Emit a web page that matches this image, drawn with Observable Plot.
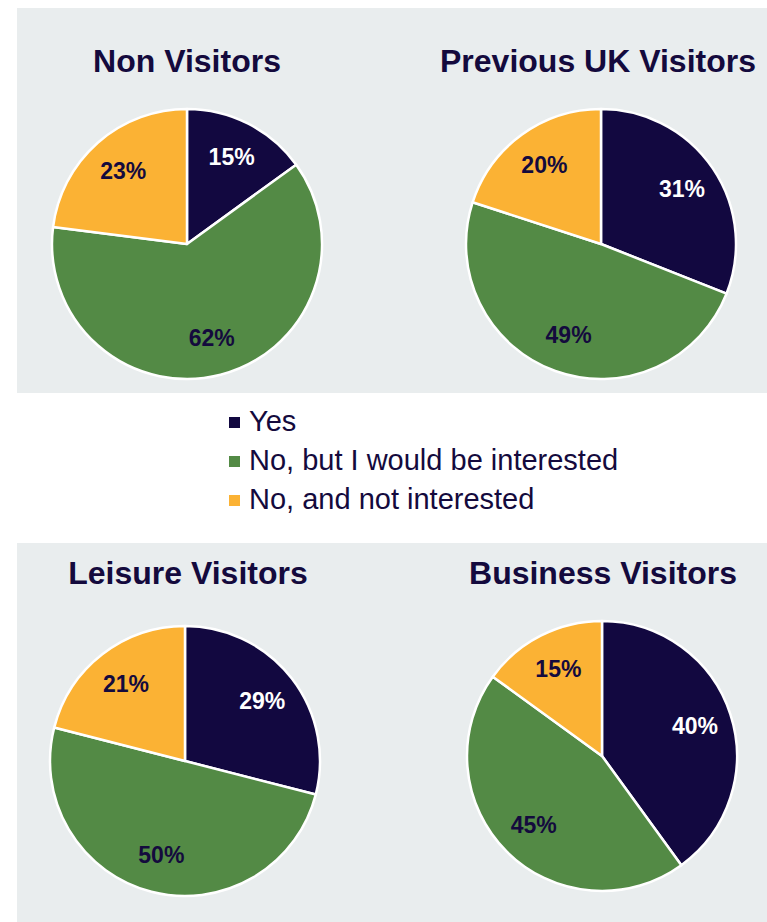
<!DOCTYPE html>
<html>
<head>
<meta charset="utf-8">
<script src="https://cdn.jsdelivr.net/npm/d3@7"></script>
<script src="https://cdn.jsdelivr.net/npm/@observablehq/plot@0.6"></script>
<style>
  html, body { margin: 0; padding: 0; background: #fff; }
  #page { position: relative; width: 767px; height: 922px; overflow: hidden; font-family: "Liberation Sans", Arial, sans-serif; color: #140a3d; }
  .panel { position: absolute; left: 17px; width: 750px; background: #e9edee; }
  .title { position: absolute; width: 400px; margin-left: -200px; text-align: center; font-weight: bold; font-size: 32px; line-height: 32px; white-space: nowrap; }
  .pie { position: absolute; width: 300px; height: 300px; margin-left: -150px; margin-top: -150px; }
  .leg { position: absolute; left: 229px; font-size: 29px; line-height: 29px; white-space: nowrap; }
  .leg span.sw { position: absolute; left: 0; top: 10px; width: 11px; height: 11px; }
  .leg span.tx { position: absolute; left: 20px; top: 0; }
</style>
</head>
<body>
<div id="page"></div>
<script>
// ---- data ----
const categories = ["Yes", "No, but I would be interested", "No, and not interested"];
const colors = ["#120840", "#538a45", "#fbb234"];
const panelTitles = ["Non Visitors", "Previous UK Visitors", "Leisure Visitors", "Business Visitors"];
const nonVisitors = [15, 62, 23];
const previousUK = [31, 49, 20];
const leisure = [29, 50, 21];
const business = [40, 45, 15];

// ---- layout ----
const page = document.getElementById("page");
function addDiv(cls, style, html) {
  const d = document.createElement("div");
  d.className = cls;
  Object.assign(d.style, style);
  if (html != null) d.innerHTML = html;
  page.appendChild(d);
  return d;
}
addDiv("panel", {top: "8px", height: "385px"});
addDiv("panel", {top: "543px", height: "379px"});

const R = 135, W = 300, u = (W / 2) / R;
const textDark = "#140a3d";

function pieChart(values) {
  const arcs = d3.pie().sort(null).value(d => d)(values);
  const labelArc = d3.arc().innerRadius(0).outerRadius(1.44);
  const rows = arcs.map((a, i) => {
    const [lx, ly] = labelArc.centroid(a);
    return {cat: categories[i], value: values[i], a, lx, ly, i};
  });
  const wedges = (index, scales) => {
    const cx = scales.x(0), cy = scales.y(0), r = scales.x(1) - scales.x(0);
    const g = d3.create("svg:g").attr("transform", `translate(${cx},${cy})`);
    g.selectAll("path").data(rows).join("path")
      .attr("d", d => d3.arc().innerRadius(0).outerRadius(r)(d.a))
      .attr("fill", d => scales.color(d.cat))
      .attr("stroke", "#ffffff")
      .attr("stroke-width", 2.5)
      .attr("stroke-linejoin", "round");
    return g.node();
  };
  const font = {fontSize: 23, fontWeight: "bold", fontFamily: "Liberation Sans, Arial, sans-serif"};
  return Plot.plot({
    width: W, height: W, margin: 0,
    x: {domain: [-u, u], axis: null},
    y: {domain: [-u, u], axis: null, reverse: true},
    color: {domain: categories, range: colors},
    style: {background: "transparent", overflow: "visible"},
    marks: [
      Plot.dot(rows, {x: "lx", y: "ly", fill: "cat", r: 0}),
      wedges,
      Plot.text(rows.filter(d => d.i === 0), {x: "lx", y: "ly", text: d => d.value + "%", fill: "#ffffff", ...font}),
      Plot.text(rows.filter(d => d.i !== 0), {x: "lx", y: "ly", text: d => d.value + "%", fill: textDark, ...font})
    ]
  });
}

const charts = [
  {values: nonVisitors, cx: 187, cy: 244, tx: 187, ty: 45},
  {values: previousUK, cx: 601, cy: 244, tx: 598, ty: 45},
  {values: leisure, cx: 185, cy: 761, tx: 188, ty: 557},
  {values: business, cx: 602, cy: 756, tx: 603, ty: 557}
];
charts.forEach((c, k) => {
  addDiv("title", {left: c.tx + "px", top: c.ty + "px"}, panelTitles[k]);
  const holder = addDiv("pie", {left: c.cx + "px", top: c.cy + "px"});
  holder.appendChild(pieChart(c.values));
});

// ---- legend ----
categories.forEach((cat, i) => {
  const d = addDiv("leg", {top: (407 + i * 39) + "px"});
  const sw = document.createElement("span");
  sw.className = "sw"; sw.style.background = colors[i];
  const tx = document.createElement("span");
  tx.className = "tx"; tx.textContent = cat;
  d.appendChild(sw); d.appendChild(tx);
});
</script>
</body>
</html>
